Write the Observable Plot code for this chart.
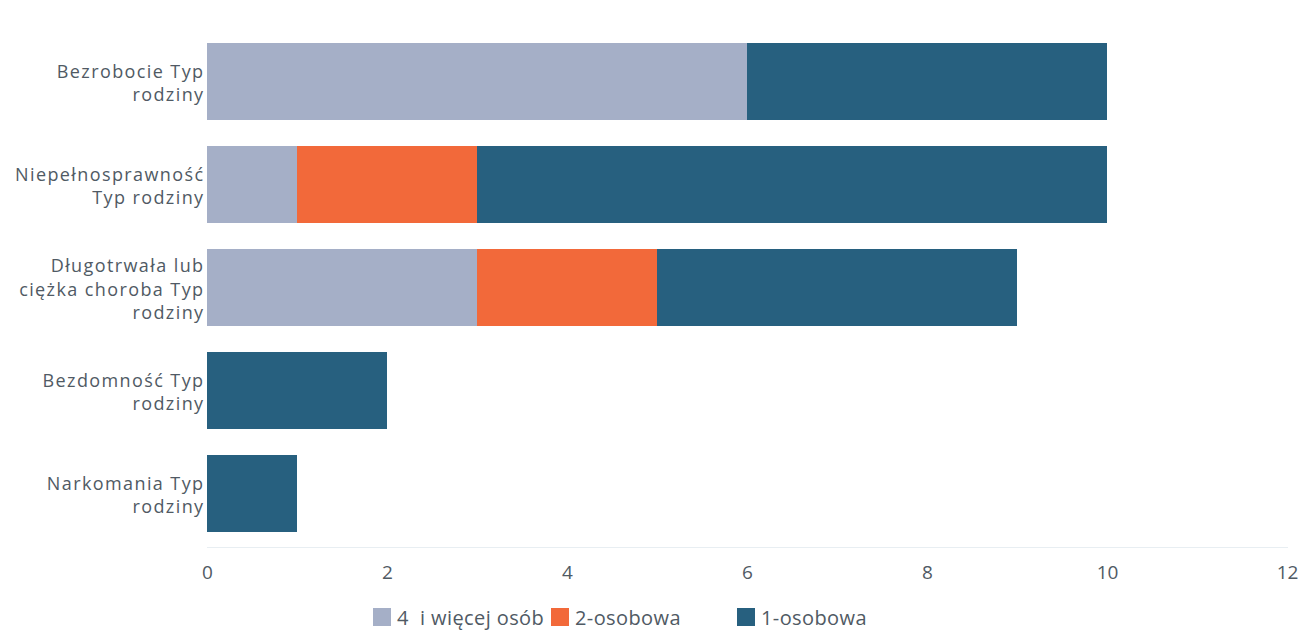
<!DOCTYPE html>
<html>
<head>
<meta charset="utf-8">
<script src="https://cdn.jsdelivr.net/npm/d3@7"></script>
<script src="https://cdn.jsdelivr.net/npm/@observablehq/plot@0.6"></script>
<style>
  html, body { margin: 0; padding: 0; background: #ffffff; }
  body { width: 1300px; height: 630px; position: relative; overflow: hidden; font-family: "Open Sans", sans-serif; }
  #chart { position: absolute; left: 0; top: 0; }
  #chart g[aria-label="y-axis tick label"] text { letter-spacing: 1.4px; font-size: 18px; }
  #legend { position: absolute; top: 605px; left: 0; width: 1300px; height: 24px; font-size: 20px; letter-spacing: 0.4px; color: #505a64; }
  .item { position: absolute; top: 0; height: 24px; display: flex; align-items: center; white-space: pre; }
  .sw { width: 18px; height: 18px; margin-right: 6px; display: inline-block; }
</style>
</head>
<body>
<div id="chart"></div>
<div id="legend"></div>
<script>
const categories = [
  "Bezrobocie Typ\nrodziny",
  "Niepełnosprawność\nTyp rodziny",
  "Długotrwała lub\nciężka choroba Typ\nrodziny",
  "Bezdomność Typ\nrodziny",
  "Narkomania Typ\nrodziny"
];
const seriesNames = ["4  i więcej osób", "2-osobowa", "1-osobowa"];
const seriesColors = ["#a5afc7", "#f2693a", "#27607f"];
const values4plus = [6, 1, 3, 0, 0];
const values2 = [0, 2, 2, 0, 0];
const values1 = [4, 7, 4, 2, 1];
const xTicks = [0, 2, 4, 6, 8, 10, 12];

const seriesValues = [values4plus, values2, values1];
const data = [];
seriesNames.forEach((s, si) => {
  categories.forEach((c, ci) => {
    const v = seriesValues[si][ci];
    if (v > 0) data.push({category: c, series: s, value: v});
  });
});

const chart = Plot.plot({
  width: 1300,
  height: 600,
  marginLeft: 207,
  marginRight: 13,
  marginTop: 28,
  marginBottom: 53,
  style: {fontFamily: "Open Sans, sans-serif", fontSize: "19px", color: "#505a64", background: "#ffffff"},
  x: {domain: [0, 12], label: null},
  y: {domain: categories, paddingInner: 0.25, paddingOuter: 0.125, label: null},
  color: {domain: seriesNames, range: seriesColors},
  marks: [
    Plot.frame({anchor: "bottom", stroke: "#e8eef2"}),
    Plot.barX(data, Plot.stackX({y: "category", x: "value", fill: "series", order: seriesNames})),
    Plot.axisX({ticks: xTicks, tickSize: 0, tickPadding: 18, label: null}),
    Plot.axisY({tickSize: 0, tickPadding: 3, lineHeight: 1.3, label: null})
  ]
});
document.getElementById("chart").appendChild(chart);

const legend = document.getElementById("legend");
const legendX = [373, 551, 737];
seriesNames.forEach((s, i) => {
  const d = document.createElement("div");
  d.className = "item";
  d.style.left = legendX[i] + "px";
  const sw = document.createElement("span");
  sw.className = "sw";
  sw.style.background = seriesColors[i];
  d.appendChild(sw);
  d.appendChild(document.createTextNode(s));
  legend.appendChild(d);
});
</script>
</body>
</html>
